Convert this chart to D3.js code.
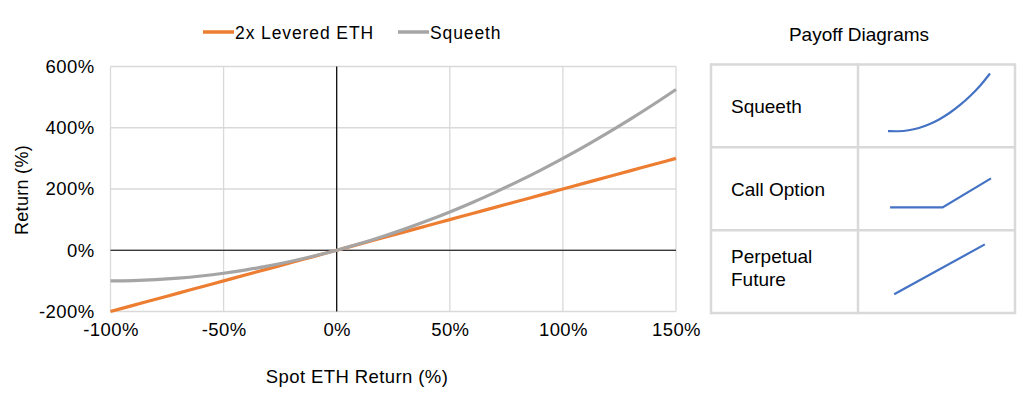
<!DOCTYPE html>
<html><head><meta charset="utf-8">
<script src="https://cdn.jsdelivr.net/npm/d3@7"></script>
<style>
body{margin:0;background:#fff;}
svg{display:block;font-family:"Liberation Sans",Arial,sans-serif;}
</style></head><body>
<svg id="c" width="1024" height="398"></svg>
<script>
// Main chart data (spot ETH return %, series return %)
const spotReturns = [-100,-90,-80,-70,-60,-50,-40,-30,-20,-10,0,10,20,30,40,50,60,70,80,90,100,110,120,130,140,150];
const leveredEth  = [-200,-180,-160,-140,-120,-100,-80,-60,-40,-20,0,20,40,60,80,100,120,140,160,180,200,220,240,260,280,300];
const squeeth     = [-100,-99,-96,-91,-84,-75,-64,-51,-36,-19,0,21,44,69,96,125,156,189,224,261,300,341,384,429,476,525];
const seriesNames = ["2x Levered ETH","Squeeth"];
const xTicks = [-100,-50,0,50,100,150];
const yTicks = [-200,0,200,400,600];

// Payoff diagram table
const tableTitle = "Payoff Diagrams";
const rowLabels = [["Squeeth"],["Call Option"],["Perpetual","Future"]];
const miniSqueeth = [[0,0.008],[0.1,0.0005],[0.2,0.017],[0.3,0.057],[0.4,0.121],[0.5,0.208],[0.6,0.319],[0.7,0.454],[0.8,0.613],[0.9,0.794],[0.99,1]];
const miniCall = [[0.02,0.12],[0.53,0.12],[1.0,0.62]];
const miniPerp = [[0.06,0.05],[0.94,0.91]];
const miniSeries = [miniSqueeth, miniCall, miniPerp];

const svg = d3.select("#c");
const colors = ["#ED7D31","#A5A5A5"];

const x = d3.scaleLinear().domain([-100,150]).range([110.5,676]);
const y = d3.scaleLinear().domain([-200,600]).range([311.5,66.5]);

// gridlines
const g = svg.append("g");
g.selectAll(".vg").data(xTicks).join("line")
  .attr("x1",d=>x(d)).attr("x2",d=>x(d)).attr("y1",y(600)).attr("y2",y(-200))
  .attr("stroke","#d9d9d9").attr("stroke-width",1.3);
g.selectAll(".hg").data(yTicks).join("line")
  .attr("x1",x(-100)).attr("x2",x(150)).attr("y1",d=>y(d)).attr("y2",d=>y(d))
  .attr("stroke","#d9d9d9").attr("stroke-width",1.3);

// zero axes
g.append("line").attr("x1",x(0)).attr("x2",x(0)).attr("y1",y(600)).attr("y2",y(-200))
  .attr("stroke","#000").attr("stroke-width",1.2);
g.append("line").attr("x1",x(-100)).attr("x2",x(150)).attr("y1",y(0)).attr("y2",y(0))
  .attr("stroke","#000").attr("stroke-width",1.2);

// tick labels via axes
const xAxis = svg.append("g").attr("transform",`translate(0,${y(-200)})`)
  .call(d3.axisBottom(x).tickValues(xTicks).tickFormat(d=>d+"%").tickSize(0).tickPadding(11));
const yAxis = svg.append("g").attr("transform",`translate(${x(-100)},0)`)
  .call(d3.axisLeft(y).tickValues(yTicks).tickFormat(d=>d+"%").tickSize(0).tickPadding(16));
[xAxis,yAxis].forEach(a=>{
  a.select(".domain").remove();
  a.selectAll("text").attr("font-size",18.5).attr("fill","#000")
   .attr("font-family","Liberation Sans, Arial, sans-serif").style("letter-spacing","0.4px");
});

// series lines
const line = d3.line().x(d=>x(d[0])).y(d=>y(d[1])).curve(d3.curveMonotoneX);
const data = [leveredEth, squeeth].map(vals=>spotReturns.map((s,i)=>[s,vals[i]]));
svg.selectAll(".series").data([data[0],data[1]]).join("path")
  .attr("d",line).attr("fill","none")
  .attr("stroke",(d,i)=>colors[i]).attr("stroke-width",3.2);

// legend
const leg = svg.append("g");
const legX = [203,398];
seriesNames.forEach((n,i)=>{
  leg.append("line").attr("x1",legX[i]).attr("x2",legX[i]+31).attr("y1",32).attr("y2",32)
    .attr("stroke",colors[i]).attr("stroke-width",3.5);
  leg.append("text").attr("x",legX[i]+32).attr("y",38.5).text(n)
    .attr("font-size",17.5).style("letter-spacing","0.9px");
});

// axis titles
svg.append("text").attr("x",357).attr("y",383).attr("text-anchor","middle")
  .attr("font-size",18.5).style("letter-spacing","0.4px").text("Spot ETH Return (%)");
svg.append("text").attr("transform","translate(28,190) rotate(-90)").attr("text-anchor","middle")
  .attr("font-size",18).style("letter-spacing","0.3px").text("Return (%)");

// payoff table
const colX = [711,858,1015];
const rowY = d3.scaleLinear().domain([0,3]).range([64.5,313]);
svg.append("text").attr("x",859).attr("y",40.5).attr("text-anchor","middle")
  .attr("font-size",19).text(tableTitle);
const tg = svg.append("g");
rowLabels.forEach((lab,i)=>{
  const y0 = rowY(i), y1 = rowY(i+1), cy=(y0+y1)/2;
  const t = tg.append("text").attr("x",731).attr("font-size",19);
  const off = lab.length>1 ? 3 : 7.5;
  lab.forEach((l,j)=>{
    t.append("tspan").attr("x",731).attr("y",cy+off+(j-(lab.length-1)/2)*23).text(l);
  });
  const mx = d3.scaleLinear().domain([0,1]).range([colX[1]+30,colX[1]+133]);
  const my = d3.scaleLinear().domain([0,1]).range([y0+67,y0+9]);
  tg.append("path").datum(miniSeries[i])
    .attr("d",d3.line().x(d=>mx(d[0])).y(d=>my(d[1])).curve(i===0?d3.curveBasis:d3.curveLinear))
    .attr("fill","none").attr("stroke","#4472C4").attr("stroke-width",2.2);
});
// table borders
[0,1,2,3].forEach(i=>{
  tg.append("line").attr("x1",colX[0]).attr("x2",colX[2]).attr("y1",rowY(i)).attr("y2",rowY(i))
    .attr("stroke","#d9d9d9").attr("stroke-width",2.5);
});
colX.forEach(cx=>{
  tg.append("line").attr("x1",cx).attr("x2",cx).attr("y1",rowY(0)-1.25).attr("y2",rowY(3)+1.25)
    .attr("stroke","#d9d9d9").attr("stroke-width",2.5);
});
</script>
</body></html>
